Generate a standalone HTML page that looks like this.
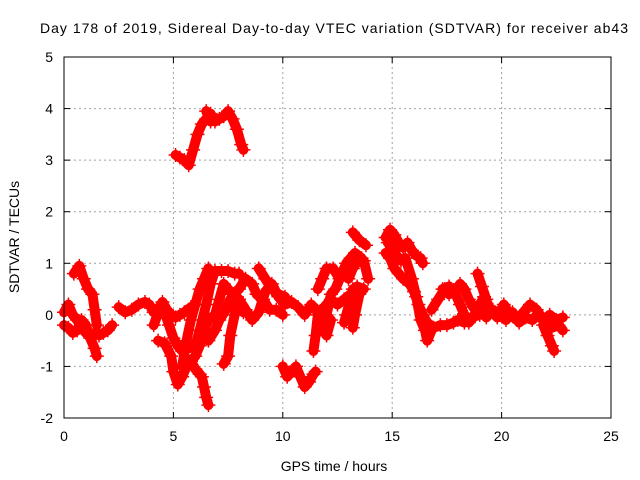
<!DOCTYPE html>
<html><head><meta charset="utf-8"><style>
html,body{margin:0;padding:0;background:#fff}
svg{display:block;font-family:"Liberation Sans",sans-serif}
</style></head><body>
<svg id="chart" width="640" height="480" viewBox="0 0 640 480">
<text x="334" y="33" text-anchor="middle" font-size="14" textLength="588">Day 178 of 2019, Sidereal Day-to-day VTEC variation (SDTVAR) for receiver ab43</text>
<g id="grid"></g>
<g id="ticks"></g>
<g id="marks"></g>
<rect x="64" y="57" width="547" height="361" fill="none" stroke="#000" stroke-width="1"/>
<text x="334" y="471" text-anchor="middle" font-size="14">GPS time / hours</text>
<text transform="translate(19,237) rotate(-90)" text-anchor="middle" font-size="14">SDTVAR / TECUs</text>
</svg>
<script>
const xTicks=[0,5,10,15,20,25];
const yTicks=[-2,-1,0,1,2,3,4,5];
const tr1=[[0,-0.2],[0.2,-0.25],[0.4,-0.35],[0.6,-0.3],[0.8,-0.1],[1.0,-0.2],[1.2,-0.45],[1.4,-0.65],[1.5,-0.8]];
const tr2=[[0,0.05],[0.2,0.2],[0.4,0.0],[0.6,-0.1],[0.8,-0.25],[1.0,-0.35],[1.2,-0.4],[1.4,-0.35],[1.6,-0.4],[1.8,-0.35],[2.0,-0.3],[2.2,-0.2]];
const tr3=[[0.45,0.8],[0.7,0.95],[0.9,0.7],[1.1,0.5],[1.3,0.4],[1.4,0.1],[1.5,-0.2]];
const tr4=[[2.5,0.15],[2.8,0.05],[3.1,0.1],[3.4,0.2],[3.7,0.25],[3.9,0.2],[4.1,0.05],[4.3,0.1],[4.5,0.25],[4.7,0.1],[4.9,0.0],[5.1,-0.05],[5.3,0.0],[5.5,0.05],[5.8,0.15],[6.0,0.2]];
const tr5=[[4.1,-0.2],[4.4,0.15],[4.6,0.05],[4.8,-0.2],[5.0,-0.45],[5.2,-0.6],[5.4,-0.7],[5.7,-0.65],[6.0,-0.6],[6.2,-0.3],[6.5,0.2],[6.7,0.6],[6.9,0.85],[7.2,0.85],[7.5,0.85],[7.8,0.8],[8.0,0.8]];
const tr6=[[4.3,-0.5],[4.6,-0.55],[4.9,-0.8],[5.0,-1.1],[5.2,-1.35],[5.4,-1.2],[5.6,-1.0],[5.8,-0.9],[6.0,-0.8],[6.2,-0.6],[6.4,-0.3],[6.6,-0.1],[6.9,0.0],[7.1,0.3],[7.3,0.6],[7.5,0.5],[7.7,0.4],[8.0,0.5],[8.3,0.7],[8.6,0.6],[8.8,0.4],[9.1,0.3],[9.4,0.1],[9.7,0.1],[10,0.0]];
const tr7=[[5.4,-1.0],[5.6,-0.5],[5.8,-0.1],[6.0,0.2],[6.2,0.5],[6.4,0.7],[6.6,0.9]];
const tr8=[[5.8,-0.9],[6.0,-1.05],[6.2,-1.15],[6.3,-1.2],[6.4,-1.4],[6.5,-1.6],[6.6,-1.75]];
const tr9=[[6.6,-0.5],[6.9,-0.3],[7.1,-0.1],[7.4,0.1],[7.6,0.3],[7.9,0.35],[8.1,0.2],[8.2,0.05]];
const tr10=[[7.3,-0.95],[7.5,-0.8],[7.6,-0.4],[7.8,0.0],[8.0,0.3]];
const tr11=[[8.0,0.3],[8.3,0.1],[8.6,-0.1],[8.9,0.05],[9.2,0.45],[9.5,0.6],[9.8,0.35],[10.1,0.2],[10.4,0.25],[10.7,0.15],[11.0,0.0],[11.3,0.2],[11.6,0.05],[11.9,0.15],[12.2,0.3],[12.5,0.2],[12.8,0.3],[13.1,0.4],[13.4,0.55],[13.7,0.5]];
const tr12=[[8.9,0.9],[9.2,0.7],[9.5,0.5],[9.8,0.4],[10.1,0.35]];
const tr13=[[10.0,-1.0],[10.2,-1.2],[10.4,-1.1],[10.6,-1.0],[10.8,-1.2],[11.0,-1.4],[11.2,-1.3],[11.4,-1.15],[11.5,-1.1]];
const tr14=[[11.8,-0.3],[12.0,0.0],[12.2,0.4],[12.4,0.5],[12.6,0.7],[12.8,0.8],[13.0,0.7],[13.2,0.9],[13.5,1.1],[13.7,1.05],[13.9,0.7]];
const tr15=[[11.6,0.5],[11.8,0.7],[12.0,0.9],[12.3,0.9],[12.6,0.7],[12.9,1.0],[13.1,1.1],[13.3,1.2],[13.6,1.1]];
const tr16=[[11.4,-0.7],[11.5,-0.4],[11.6,0.0],[11.8,-0.2],[12.0,-0.4],[12.2,-0.1]];
const tr17=[[12.8,-0.15],[12.9,0.0],[13.1,0.3],[13.2,0.5]];
const tr18=[[13.2,-0.25],[13.3,0.0],[13.5,0.4]];
const tr19=[[13.2,1.6],[13.5,1.45],[13.8,1.35]];
const tr20=[[14.7,1.2],[14.9,1.1],[15.1,0.9],[15.3,0.8],[15.5,0.7],[15.8,0.6],[16.0,0.45],[16.2,0.2],[16.4,0.0],[16.6,-0.15],[16.9,-0.25],[17.2,-0.2],[17.5,-0.2],[17.8,-0.15],[18.0,-0.1],[18.3,-0.15],[18.6,-0.05],[19.0,0.0]];
const tr21=[[14.8,1.4],[15.0,1.3],[15.2,1.15],[15.4,1.05],[15.6,1.1],[15.9,0.7],[16.1,0.35],[16.3,-0.1],[16.5,-0.3],[16.6,-0.5],[16.8,-0.3]];
const tr22=[[14.7,1.5],[14.9,1.65],[15.1,1.55],[15.3,1.4],[15.5,1.3],[15.7,1.4],[15.9,1.25],[16.1,1.15],[16.3,1.1],[16.4,1.0]];
const tr23=[[17.3,0.5],[17.6,0.55],[17.9,0.4],[18.1,0.2],[18.3,0.0],[18.5,-0.15],[18.8,0.0],[19.0,0.1],[19.3,-0.05],[19.6,0.1],[19.9,0.0],[20.2,-0.1],[20.5,0.05],[20.8,-0.15],[21.1,-0.05],[21.4,-0.1],[21.7,0.0],[22.0,-0.15],[22.3,-0.25],[22.6,-0.2],[22.8,-0.3]];
const tr24=[[16.8,0.1],[17.1,0.3],[17.4,0.5],[17.6,0.4],[17.9,0.45],[18.1,0.6],[18.3,0.5],[18.5,0.3],[18.7,0.15],[19.0,0.2],[19.2,0.35],[19.5,0.1],[19.8,-0.05],[20.1,0.2],[20.4,0.0],[20.7,-0.1],[21.0,0.05],[21.3,0.2],[21.6,0.1],[21.9,-0.1],[22.2,0.0],[22.5,-0.1],[22.8,-0.05]];
const tr25=[[18.9,0.8],[19.1,0.55],[19.3,0.3]];
const tr26=[[21.9,-0.2],[22.1,-0.4],[22.3,-0.6],[22.4,-0.7]];
const tr27=[[5.1,3.1],[5.3,3.05],[5.5,3.0],[5.7,2.9],[5.9,3.2],[6.1,3.5],[6.3,3.7],[6.5,3.8],[6.7,3.9],[6.9,3.75],[7.1,3.8],[7.3,3.85],[7.5,3.95],[7.7,3.8],[7.9,3.6],[8.1,3.3],[8.2,3.2]];
const tr28=[[6.5,3.95],[6.7,3.75]];
const traces=[tr1,tr2,tr3,tr4,tr5,tr6,tr7,tr8,tr9,tr10,tr11,tr12,tr13,tr14,tr15,tr16,tr17,tr18,tr19,tr20,tr21,tr22,tr23,tr24,tr25,tr26,tr27,tr28];

const X0=64,X1=611,Y0=418,Y1=57,xMin=0,xMax=25,yMin=-2,yMax=5;
function xs(v){return X0+(v-xMin)/(xMax-xMin)*(X1-X0);}
function ys(v){return Y0-(v-yMin)/(yMax-yMin)*(Y0-Y1);}
const NS="http://www.w3.org/2000/svg";
function mk(tag,attrs,parent){const e=document.createElementNS(NS,tag);for(const k in attrs)e.setAttribute(k,attrs[k]);parent.appendChild(e);return e;}
const grid=document.getElementById('grid'),ticks=document.getElementById('ticks'),marks=document.getElementById('marks');
xTicks.forEach(t=>{const x=xs(t);
 if(t>xMin&&t<xMax){const g=mk('line',{x1:x,y1:Y1,x2:x,y2:Y0,stroke:'#a0a0a0','stroke-dasharray':'2,3'},grid);
 
 }
 mk('line',{x1:x,y1:Y0,x2:x,y2:Y0-6,stroke:'#000'},ticks);
 mk('line',{x1:x,y1:Y1,x2:x,y2:Y1+6,stroke:'#000'},ticks);
 const l=mk('text',{x:x,y:Y0+23,'text-anchor':'middle','font-size':'14'},ticks);l.textContent=t;
 
 });
yTicks.forEach(t=>{const y=ys(t);
 if(t>yMin&&t<yMax){const g=mk('line',{x1:X0,y1:y,x2:X1,y2:y,stroke:'#a0a0a0','stroke-dasharray':'2,3'},grid);
 
 }
 mk('line',{x1:X0,y1:y,x2:X0+6,y2:y,stroke:'#000'},ticks);
 mk('line',{x1:X1,y1:y,x2:X1-6,y2:y,stroke:'#000'},ticks);
 const l=mk('text',{x:X0-11,y:y+5,'text-anchor':'end','font-size':'14'},ticks);l.textContent=t;
 
 });
traces.forEach((tr,i)=>{
 const p=mk('polyline',{points:tr.map(d=>xs(d[0])+','+ys(d[1])).join(' '),fill:'none',stroke:'#ff0000','stroke-width':'10','stroke-linejoin':'round','stroke-linecap':'round'},marks);
 
 
 tr.forEach(d=>{const x=xs(d[0]),y=ys(d[1]);
  const m=mk('path',{d:`M${x-7},${y}H${x+7}M${x},${y-7}V${y+7}`,stroke:'#ff0000','stroke-width':'1.5'},marks);
  
  });
});
</script>
</body></html>
